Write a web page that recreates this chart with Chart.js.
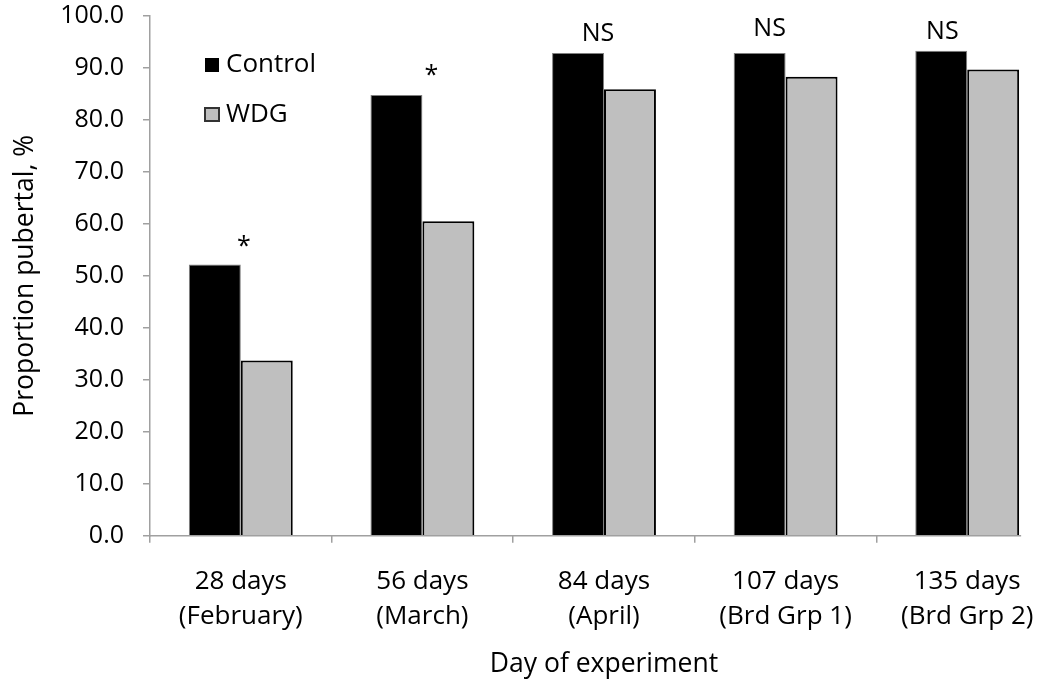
<!DOCTYPE html>
<html>
<head>
<meta charset="utf-8">
<script src="https://cdn.jsdelivr.net/npm/chart.js@4.4.1/dist/chart.umd.min.js"></script>
<style>
  html, body { margin: 0; padding: 0; background: #fff; }
  #wrap { width: 1050px; height: 685px; overflow: hidden; }
  #chart { display: block; }
</style>
</head>
<body>
<div id="wrap"><canvas id="chart" width="1066" height="685"></canvas></div>
<script>
// Dados
const categories = [
  ['28 days', '(February)'],
  ['56 days', '(March)'],
  ['84 days', '(April)'],
  ['107 days', '(Brd Grp 1)'],
  ['135 days', '(Brd Grp 2)'],
];
const controlValues = [52.2, 84.8, 92.9, 92.9, 93.3];
const wdgValues = [33.7, 60.5, 85.9, 88.3, 89.7];
const yTickValues = [0, 10, 20, 30, 40, 50, 60, 70, 80, 90, 100];
const signifLabels = ['*', '*', 'NS', 'NS', 'NS'];

// posição das marcas de significância (altura no eixo, deslocamento em fração da categoria)
const signifHeight = [55.5, 88.4, 96.6, 97.6, 96.9];
const signifShift = [0.017, 0.05, -0.033, -0.088, -0.137];

const AXIS_GRAY = '#a0a0a0';
const FONT = "'Open Sans', 'Noto Sans', sans-serif";

Chart.defaults.font.family = FONT;
Chart.defaults.font.size = 25;
Chart.defaults.color = '#000';

const signifPlugin = {
  id: 'signif',
  afterDatasetsDraw(chart) {
    const { ctx, scales } = chart;
    const xs = scales.x;
    const ys = scales.y;
    const catW = xs.width / categories.length;
    ctx.save();
    ctx.font = `25px ${FONT}`;
    ctx.fillStyle = '#000';
    ctx.textAlign = 'center';
    ctx.textBaseline = 'middle';
    signifLabels.forEach((txt, i) => {
      const x = xs.getPixelForValue(i) + signifShift[i] * catW;
      const y = ys.getPixelForValue(signifHeight[i]);
      ctx.fillText(txt, x, y);
    });
    ctx.restore();
  },
};

// linha do eixo x até a última barra (a imagem original termina aí)
const baseLinePlugin = {
  id: 'baseLine',
  afterDatasetsDraw(chart) {
    const { ctx, scales } = chart;
    const meta = chart.getDatasetMeta(1);
    const last = meta.data[meta.data.length - 1];
    const y = scales.y.getPixelForValue(0);
    ctx.save();
    ctx.strokeStyle = AXIS_GRAY;
    ctx.lineWidth = 1.5;
    ctx.beginPath();
    ctx.moveTo(chart.chartArea.left, y);
    ctx.lineTo(last.x + last.width / 2 + 2, y);
    ctx.stroke();
    ctx.restore();
  },
};

const legendPlugin = {
  id: 'cornerLegend',
  afterDraw(chart) {
    const { ctx } = chart;
    const rows = [
      { y: 65, box: [205, 58, 14, 14] },
      { y: 115, box: [204, 107, 16, 15] },
    ];
    ctx.save();
    ctx.font = `26px ${FONT}`;
    ctx.textBaseline = 'middle';
    ctx.textAlign = 'left';
    chart.data.datasets.forEach((ds, i) => {
      const r = rows[i];
      ctx.fillStyle = ds.backgroundColor;
      ctx.fillRect(...r.box);
      if (i === 1) {
        ctx.strokeStyle = '#333';
        ctx.lineWidth = 2;
        ctx.strokeRect(r.box[0] + 1, r.box[1] + 1, r.box[2] - 2, r.box[3] - 2);
      }
      ctx.fillStyle = '#000';
      ctx.fillText(ds.label, 226, r.y);
    });
    ctx.restore();
  },
};

new Chart(document.getElementById('chart'), {
  type: 'bar',
  data: {
    labels: categories,
    datasets: [
      {
        label: 'Control',
        data: controlValues,
        backgroundColor: '#000000',
        borderColor: '#7f7f7f',
        borderWidth: 1,
        categoryPercentage: 0.572,
        barPercentage: 1,
      },
      {
        label: 'WDG',
        data: wdgValues,
        backgroundColor: '#bfbfbf',
        borderColor: '#000000',
        borderWidth: 2,
        categoryPercentage: 0.572,
        barPercentage: 1,
      },
    ],
  },
  options: {
    responsive: false,
    animation: false,
    devicePixelRatio: 1,
    layout: { padding: { left: 0, right: 8, top: 16, bottom: 0 } },
    plugins: {
      legend: { display: false },
      tooltip: { enabled: false },
    },
    scales: {
      x: {
        afterFit(scale) { scale.height = 149.3; },
        border: { display: false },
        grid: {
          offset: true,
          drawOnChartArea: false,
          drawTicks: true,
          tickLength: 7,
          tickColor: AXIS_GRAY,
          lineWidth: 1.5,
        },
        ticks: {
          autoSkip: false,
          maxRotation: 0,
          padding: 22,
          font: { size: 26, lineHeight: 1.32 },
        },
        title: {
          display: true,
          text: 'Day of experiment',
          font: { size: 26.5 },
          padding: { top: 0, bottom: 4.5 },
        },
      },
      y: {
        min: 0,
        max: 100,
        afterFit(scale) {
          scale.width = 150;
          scale.paddingTop = 0;
          scale.paddingBottom = 0;
        },
        afterBuildTicks(scale) {
          scale.ticks = yTickValues.map((v) => ({ value: v }));
        },
        border: { display: true, color: AXIS_GRAY, width: 1.5 },
        grid: {
          drawOnChartArea: false,
          drawTicks: true,
          tickLength: 7,
          tickColor: AXIS_GRAY,
          lineWidth: 1.5,
        },
        ticks: {
          padding: 19,
          font: { size: 25 },
          callback: (v) => Number(v).toFixed(1),
        },
        title: {
          display: true,
          text: 'Proportion pubertal, %',
          font: { size: 26.5 },
          padding: { top: 10, bottom: 0 },
        },
      },
    },
  },
  plugins: [baseLinePlugin, signifPlugin, legendPlugin],
});
</script>
</body>
</html>
